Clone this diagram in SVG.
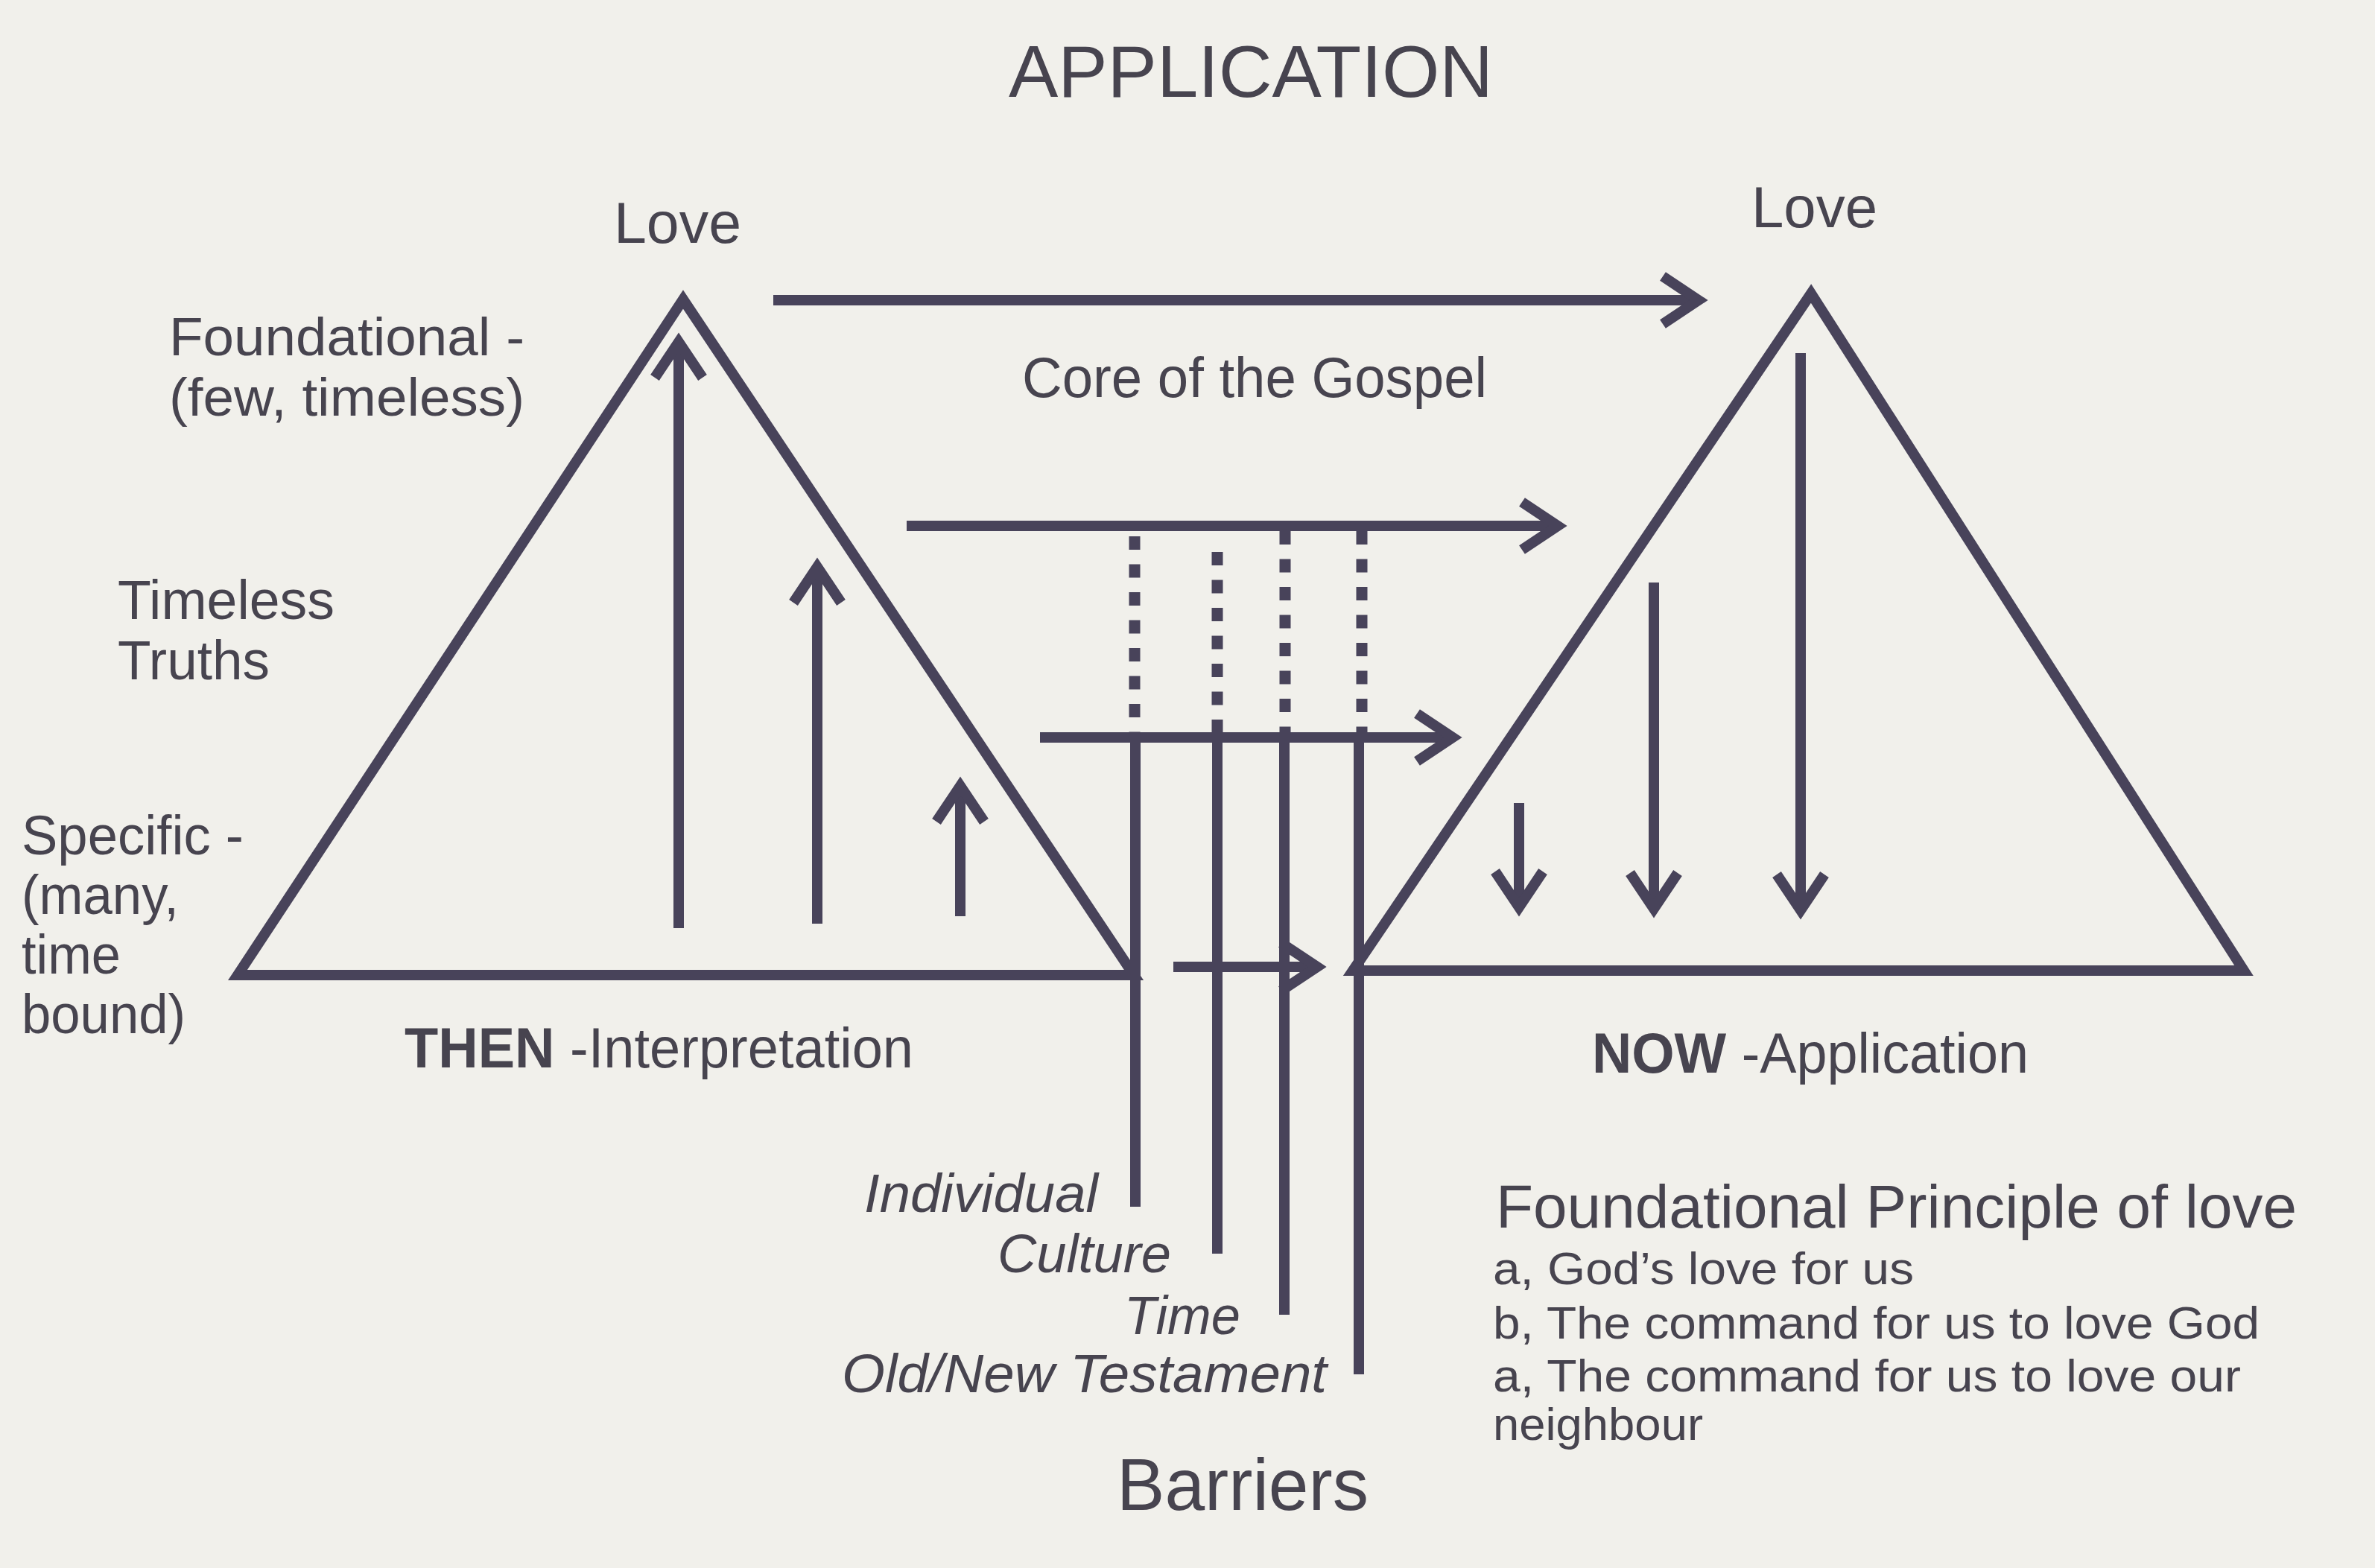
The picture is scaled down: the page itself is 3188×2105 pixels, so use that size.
<svg xmlns="http://www.w3.org/2000/svg" width="3188" height="2105" viewBox="0 0 3188 2105">
<style>
.ln{stroke:#48435a;stroke-width:14;fill:none;stroke-linecap:butt;stroke-linejoin:miter}
.dot{stroke:#48435a;stroke-width:15;fill:none;stroke-dasharray:18 19.5}
.t{font-family:"Liberation Sans",Arial,sans-serif;fill:#47444f}
.it{font-style:italic}
.b{font-weight:bold}
</style>
<defs>
<marker id="chev" viewBox="-70 -45 85 90" markerWidth="85" markerHeight="90" refX="0" refY="0" orient="auto" markerUnits="userSpaceOnUse">
<path d="M -48 -32 L 0 0 L -48 32" fill="none" stroke="#48435a" stroke-width="14" stroke-linejoin="miter"/>
</marker>
</defs>
<rect x="0" y="0" width="3188" height="2105" fill="#f1f0eb"/>

<g id="title"><text class="t" x="1354" y="130" font-size="98" textLength="650" lengthAdjust="spacingAndGlyphs">APPLICATION</text></g>

<g id="then-triangle">
<polygon class="ln" points="319,1309 917,402 1522,1309"/>
<text class="t" x="824" y="326" font-size="78" textLength="171" lengthAdjust="spacingAndGlyphs">Love</text>
</g>

<g id="now-triangle">
<polygon class="ln" points="1816,1303 2431,394 3012,1303"/>
<text class="t" x="2351" y="305" font-size="78" textLength="169" lengthAdjust="spacingAndGlyphs">Love</text>
</g>

<g id="left-labels">
<text class="t" x="227" y="477" font-size="73" textLength="477" lengthAdjust="spacingAndGlyphs">Foundational -</text>
<text class="t" x="227" y="558" font-size="73" textLength="477" lengthAdjust="spacingAndGlyphs">(few, timeless)</text>
<text class="t" x="158" y="831" font-size="74" textLength="291" lengthAdjust="spacingAndGlyphs">Timeless</text>
<text class="t" x="158" y="912" font-size="74" textLength="204" lengthAdjust="spacingAndGlyphs">Truths</text>
<text class="t" x="29" y="1147" font-size="74" textLength="298" lengthAdjust="spacingAndGlyphs">Specific -</text>
<text class="t" x="29" y="1227" font-size="74" textLength="211" lengthAdjust="spacingAndGlyphs">(many,</text>
<text class="t" x="29" y="1307" font-size="74" textLength="133" lengthAdjust="spacingAndGlyphs">time</text>
<text class="t" x="29" y="1387" font-size="74" textLength="220" lengthAdjust="spacingAndGlyphs">bound)</text>
</g>

<g id="then-label"><text class="t" x="543" y="1433" font-size="76" textLength="683" lengthAdjust="spacingAndGlyphs"><tspan class="b">THEN</tspan> -Interpretation</text></g>
<g id="now-label"><text class="t" x="2137" y="1440" font-size="76" textLength="586" lengthAdjust="spacingAndGlyphs"><tspan class="b">NOW</tspan> -Application</text></g>
<g id="core-label"><text class="t" x="1372" y="533" font-size="76" textLength="624" lengthAdjust="spacingAndGlyphs">Core of the Gospel</text></g>

<g id="barrier-labels">
<text class="t it" x="1160" y="1627" font-size="72" textLength="314" lengthAdjust="spacingAndGlyphs">Individual</text>
<text class="t it" x="1339" y="1708" font-size="72" textLength="233" lengthAdjust="spacingAndGlyphs">Culture</text>
<text class="t it" x="1509" y="1791" font-size="72" textLength="156" lengthAdjust="spacingAndGlyphs">Time</text>
<text class="t it" x="1130" y="1869" font-size="72" textLength="651" lengthAdjust="spacingAndGlyphs">Old/New Testament</text>
<text class="t" x="1499" y="2027" font-size="98" textLength="338" lengthAdjust="spacingAndGlyphs">Barriers</text>
</g>

<g id="principle">
<text class="t" x="2008" y="1648" font-size="82" textLength="1075" lengthAdjust="spacingAndGlyphs">Foundational Principle of love</text>
<text class="t" x="2004" y="1724" font-size="61" textLength="565" lengthAdjust="spacingAndGlyphs">a, God’s love for us</text>
<text class="t" x="2004" y="1797" font-size="61" textLength="1029" lengthAdjust="spacingAndGlyphs">b, The command for us to love God</text>
<text class="t" x="2004" y="1868" font-size="61" textLength="1004" lengthAdjust="spacingAndGlyphs">a, The command for us to love our</text>
<text class="t" x="2004" y="1933" font-size="61" textLength="282" lengthAdjust="spacingAndGlyphs">neighbour</text>
</g>

<g id="connectors">
<line class="ln" x1="1038" y1="403" x2="2280" y2="403" marker-end="url(#chev)"/>
<line class="ln" x1="1217" y1="706" x2="2091" y2="706" marker-end="url(#chev)"/>
<line class="ln" x1="1396" y1="990" x2="1950" y2="990" marker-end="url(#chev)"/>
<line class="ln" x1="1575" y1="1298" x2="1768" y2="1298" marker-end="url(#chev)"/>

<line class="ln" x1="911" y1="1246" x2="911" y2="459" marker-end="url(#chev)"/>
<line class="ln" x1="1097" y1="1240" x2="1097" y2="761" marker-end="url(#chev)"/>
<line class="ln" x1="1289" y1="1230" x2="1289" y2="1055" marker-end="url(#chev)"/>

<line class="ln" x1="2417" y1="474" x2="2417" y2="1222" marker-end="url(#chev)"/>
<line class="ln" x1="2220" y1="782" x2="2220" y2="1220" marker-end="url(#chev)"/>
<line class="ln" x1="2039" y1="1078" x2="2039" y2="1218" marker-end="url(#chev)"/>

<line class="ln" x1="1524" y1="983" x2="1524" y2="1620"/>
<line class="ln" x1="1634" y1="983" x2="1634" y2="1683"/>
<line class="ln" x1="1724" y1="983" x2="1724" y2="1765"/>
<line class="ln" x1="1824" y1="983" x2="1824" y2="1845"/>

<line class="dot" x1="1523" y1="720" x2="1523" y2="983"/>
<line class="dot" x1="1634" y1="741" x2="1634" y2="983"/>
<line class="dot" x1="1725" y1="713" x2="1725" y2="983"/>
<line class="dot" x1="1828" y1="713" x2="1828" y2="983"/>
</g>
</svg>
